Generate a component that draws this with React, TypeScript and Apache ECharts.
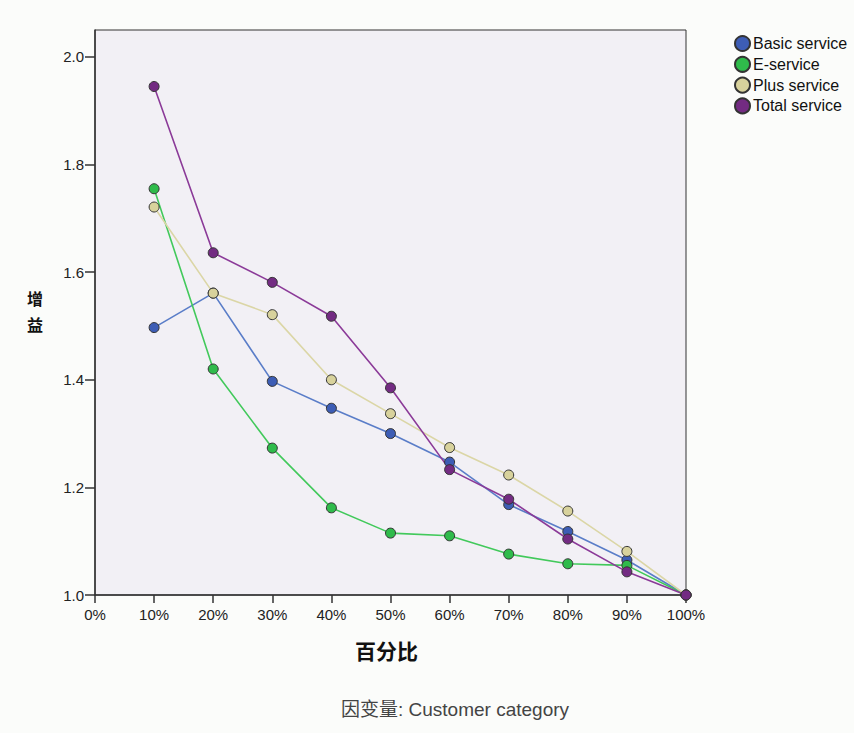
import React, { useEffect, useRef } from "react";
import * as echarts from "echarts";

const percentiles = [10, 20, 30, 40, 50, 60, 70, 80, 90, 100];
const basicService = [1.497, 1.561, 1.397, 1.347, 1.3, 1.247, 1.168, 1.118, 1.065, 1.0];
const eService = [1.755, 1.42, 1.273, 1.162, 1.115, 1.11, 1.076, 1.058, 1.055, 1.0];
const plusService = [1.721, 1.561, 1.521, 1.4, 1.337, 1.274, 1.223, 1.156, 1.081, 1.0];
const totalService = [1.945, 1.636, 1.581, 1.518, 1.385, 1.233, 1.178, 1.104, 1.043, 1.0];
const yTicks = [1.0, 1.2, 1.4, 1.6, 1.8, 2.0];
const xTicks = [0, 10, 20, 30, 40, 50, 60, 70, 80, 90, 100];

const seriesDefs = [
  { name: "Basic service", data: basicService, fill: "#3d5db5", line: "#5a7dc8" },
  { name: "E-service", data: eService, fill: "#2fbb4b", line: "#42c95b" },
  { name: "Plus service", data: plusService, fill: "#d8d29c", line: "#dbd6a6" },
  { name: "Total service", data: totalService, fill: "#732b82", line: "#8b3a98" },
];

const FONT = "'Liberation Sans', Arial, sans-serif";

export default function App() {
  const ref = useRef<HTMLDivElement>(null);
  useEffect(() => {
    if (!ref.current) return;
    const chart = echarts.init(ref.current, undefined, { renderer: "svg" });
    chart.setOption({
      animation: false,
      backgroundColor: "#fbfcfa",
      grid: {
        left: 95,
        right: 168,
        top: 30,
        bottom: 138,
        show: true,
        backgroundColor: "#f2f0f5",
        borderColor: "#333",
        borderWidth: 1,
      },
      legend: {
        orient: "vertical",
        left: 729,
        top: 30,
        itemWidth: 15,
        itemHeight: 15,
        itemGap: 3.8,
        icon: "circle",
        textStyle: { fontFamily: FONT, fontSize: 16, color: "#111", padding: [0, 0, 0, -2] },
        data: seriesDefs.map((s) => s.name),
      },
      xAxis: {
        type: "value",
        min: 0,
        max: 100,
        interval: 10,
        axisLine: { show: true, lineStyle: { color: "#333", width: 1.5 } },
        axisTick: { show: true, length: 8, lineStyle: { color: "#333", width: 1.5 }, customValues: xTicks },
        axisLabel: {
          customValues: xTicks,
          formatter: (v: number) => v + "%",
          fontFamily: FONT,
          fontSize: 15,
          color: "#222",
          margin: 12,
        },
        splitLine: { show: false },
      },
      yAxis: {
        type: "value",
        min: 1.0,
        max: 2.05,
        interval: 0.2,
        axisLine: { show: true, lineStyle: { color: "#333", width: 1.5 } },
        axisTick: { show: true, length: 10, lineStyle: { color: "#333", width: 1.5 }, customValues: yTicks },
        axisLabel: {
          customValues: yTicks,
          formatter: (v: number) => v.toFixed(1),
          fontFamily: FONT,
          fontSize: 15,
          color: "#222",
          margin: 11,
        },
        splitLine: { show: false },
      },
      graphic: [
        {
          type: "text",
          x: 35,
          y: 298,
          style: {
            text: "增",
            font: "bold 16px 'Noto Sans CJK SC', serif",
            fill: "#111",
            align: "center",
            verticalAlign: "middle",
          },
        },
        {
          type: "text",
          x: 35,
          y: 324,
          style: {
            text: "益",
            font: "bold 16px 'Noto Sans CJK SC', serif",
            fill: "#111",
            align: "center",
            verticalAlign: "middle",
          },
        },
        {
          type: "text",
          left: 355,
          top: 639,
          style: {
            text: "百分比",
            font: "bold 21px 'Noto Sans CJK SC', serif",
            fill: "#111",
            letterSpacing: 4,
          },
        },
        {
          type: "text",
          left: 341,
          top: 700,
          style: {
            text: "因变量: Customer category",
            font: "19px 'Liberation Sans', 'Noto Sans CJK SC', sans-serif",
            fill: "#444",
          },
        },
      ],
      series: seriesDefs.map((s) => ({
        name: s.name,
        type: "line",
        data: percentiles.map((p, i) => [p, s.data[i]]),
        symbol: "circle",
        symbolSize: 10,
        lineStyle: { color: s.line, width: 1.6 },
        itemStyle: { color: s.fill, borderColor: "#333", borderWidth: 1 },
        emphasis: { disabled: true },
      })),
    });
    return () => chart.dispose();
  }, []);
  return (
    <div
      ref={ref}
      style={{ position: "absolute", left: 0, top: 0, width: 854, height: 733 }}
    />
  );
}
